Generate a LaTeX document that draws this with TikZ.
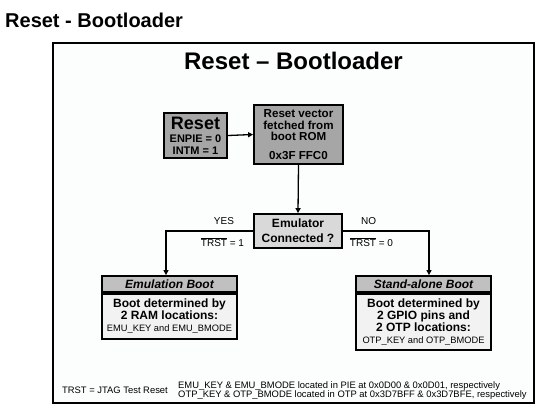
\documentclass[tikz,border=0pt]{standalone}
\usepackage{fontspec}
\setmainfont{Liberation Sans}
\usetikzlibrary{arrows.meta}
\definecolor{darkbox}{HTML}{A6A6A6}
\definecolor{midbox}{HTML}{D9D9D9}
\definecolor{headbox}{HTML}{C0C0C0}
\definecolor{bodybox}{HTML}{F2F2F2}
\newcommand{\fs}[2]{\fontsize{#1}{#2}\selectfont}
\newcommand{\ovl}[1]{$\overline{\mbox{#1}}$}
\tikzset{
  box/.style={draw=black, line width=1.8pt, align=center, inner sep=0pt, text=black},
  arr/.style={draw=black, line width=1.3pt, -{Triangle[length=5pt,width=5pt]}},
  lbl/.style={inner sep=0pt, font=\fs{10}{12}},
}
\begin{document}
\begin{tikzpicture}[x=1pt,y=-1pt]
\useasboundingbox (0,0) rectangle (542,408);
\fill[white] (0,0) rectangle (542,408);
% heading
\node[anchor=base west, inner sep=0pt, font=\fs{20}{24}\bfseries] (head) at (5,27) {Reset - Bootloader};
% frame
\draw[line width=1.2pt, fill={rgb,255:red,252;green,254;blue,254}] (53,43) rectangle (534,403);
\node[anchor=base, inner sep=0pt, font=\fs{24}{28}\bfseries] (title) at (293.5,69) {Reset -- Bootloader};
% reset box
\node[box, fill=darkbox, minimum width=63pt, minimum height=45pt] (reset) at (195.5,135.5)
  {{\fs{18}{17}\bfseries Reset}\\[1pt]{\fs{11}{11.5}\bfseries ENPIE = 0}\\{\fs{11}{11.5}\bfseries INTM = 1}};
% reset vector
\node[box, fill=darkbox, minimum width=89pt, minimum height=59pt, font=\fs{11.6}{11.7}\bfseries] (vec) at (298.5,134.5)
  {Reset vector\\fetched from\\boot ROM\\[7pt]0x3F FFC0};
% emulator
\node[box, fill=midbox, minimum width=88pt, minimum height=34pt, font=\fs{12}{15}\bfseries] (emu) at (298,231)
  {Emulator\\Connected ?};
% emulation boot
\node[box, fill=headbox, minimum width=135pt, minimum height=16pt, font=\fs{12}{14}\bfseries\itshape] (emuh) at (169.5,284) {Emulation Boot};
\node[box, fill=bodybox, minimum width=135pt, minimum height=45pt, anchor=north] (emub) at (emuh.south)
  {{\fs{12}{14.5}\bfseries Boot determined by}\\{\fs{12}{14.5}\bfseries 2 RAM locations:}\\{\fs{9.3}{11}EMU\_KEY and EMU\_BMODE}};
% stand-alone boot
\node[box, fill=headbox, minimum width=135pt, minimum height=16pt, font=\fs{12}{14}\bfseries\itshape] (stah) at (423.5,284) {Stand-alone Boot};
\node[box, fill=bodybox, minimum width=135pt, minimum height=56pt, anchor=north] (stab) at (stah.south)
  {{\fs{12}{14.5}\bfseries Boot determined by}\\{\fs{12}{14.5}\bfseries 2 GPIO pins and}\\{\fs{12}{14.5}\bfseries 2 OTP locations:}\\{\fs{9.3}{11}OTP\_KEY and OTP\_BMODE}};
% connectors
\coordinate (lt) at ([xshift=-3.5pt]emuh.north);
\coordinate (rt) at ([xshift=5.5pt]stah.north);
\draw[arr] (reset.east) -- (vec.west);
\draw[arr] (vec.south) -- (emu.north);
\draw[arr] (emu.west) -| (lt);
\draw[arr] (emu.east) -| (rt);
% labels
\node[lbl] (yes) at (224,221.5) {YES};
\node[lbl] (t1) at (222.5,242) {\ovl{TRST} = 1};
\node[lbl] (no) at (368.7,221.5) {NO};
\node[lbl] (t0) at (371.5,242) {\ovl{TRST} = 0};
% footnotes
\node[anchor=west, inner sep=0pt, font=\fs{9.4}{10}] (fn1) at (62,390.5) {TRST = JTAG Test Reset};
\node[anchor=west, inner sep=0pt, align=left, font=\fs{9.4}{7.3}] (fn2) at (178,390.5)
  {EMU\_KEY \& EMU\_BMODE located in PIE at 0x0D00 \& 0x0D01, respectively\\OTP\_KEY \& OTP\_BMODE located in OTP at 0x3D7BFF \& 0x3D7BFE, respectively};
\end{tikzpicture}
\end{document}
